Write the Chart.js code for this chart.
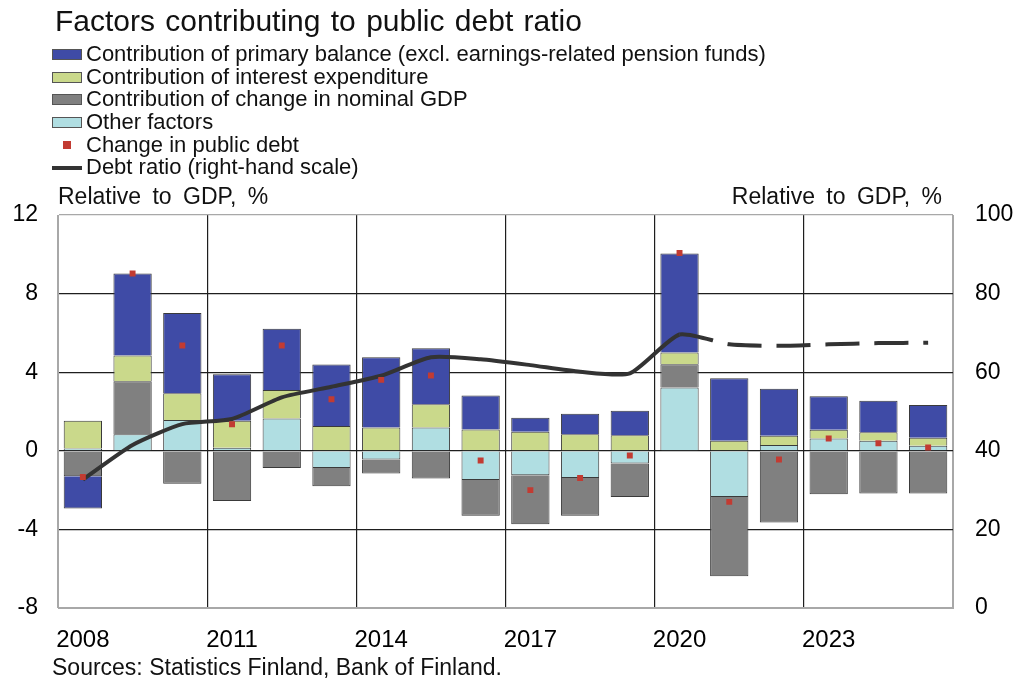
<!DOCTYPE html>
<html>
<head>
<meta charset="utf-8">
<script src="https://cdn.jsdelivr.net/npm/chart.js@4.4.1/dist/chart.umd.min.js"></script>
<style>
  body { margin: 0; background: #fff; font-family: "Liberation Sans", Arial, sans-serif; color: #111; }
  #wrap { position: relative; width: 1019px; height: 686px; overflow: hidden; }
  canvas { position: absolute; left: 0; top: 0; }
  .txt { position: absolute; white-space: nowrap; }
  #title { left: 55px; top: 4px; font-size: 30px; word-spacing: 2px; }
  #legend { position: absolute; left: 52px; top: 43px; font-size: 22px; }
  .row { height: 22.7px; line-height: 22.7px; display: flex; align-items: center; }
  .sw { width: 30px; height: 11px; margin-right: 4px; box-sizing: border-box; border: 1px solid #555; }
  .dot { width: 30px; margin-right: 4px; display: flex; justify-content: center; }
  .dot span { width: 8px; height: 8px; background: #c23b32; }
  .ln { width: 30px; height: 4px; background: #333; margin-right: 4px; }
  #lunit { left: 58px; top: 183px; font-size: 23px; word-spacing: 5px; }
  #runit { right: 77px; top: 183px; font-size: 23px; word-spacing: 5px; }
  #src { left: 52px; top: 654px; font-size: 23px; }
</style>
</head>
<body>
<div id="wrap">
  <canvas id="chart" width="1019" height="686"></canvas>
  <div class="txt" id="title">Factors contributing to public debt ratio</div>
  <div id="legend">
    <div class="row"><div class="sw" style="background:#3f4ba6"></div>Contribution of primary balance (excl. earnings-related pension funds)</div>
    <div class="row"><div class="sw" style="background:#cad98b"></div>Contribution of interest expenditure</div>
    <div class="row"><div class="sw" style="background:#808080"></div>Contribution of change in nominal GDP</div>
    <div class="row"><div class="sw" style="background:#b0dee2"></div>Other factors</div>
    <div class="row"><div class="dot"><span></span></div>Change in public debt</div>
    <div class="row"><div class="ln"></div>Debt ratio (right-hand scale)</div>
  </div>
  <div class="txt" id="lunit">Relative to GDP, %</div>
  <div class="txt" id="runit">Relative to GDP, %</div>
  <div class="txt" id="src">Sources: Statistics Finland, Bank of Finland.</div>
</div>
<script>
var years = ['2008', '2009', '2010', '2011', '2012', '2013', '2014', '2015', '2016',
             '2017', '2018', '2019', '2020', '2021', '2022', '2023', '2024', '2025'];

// contributions, relative to GDP, %
var primaryBalance = [-1.65, 4.17, 4.08, 2.37, 3.11, 3.13, 3.58, 2.85, 1.72, 0.71, 1.05, 1.25, 5.04, 3.18, 2.39, 1.71, 1.60, 1.67];
var interestExp    = [1.41, 1.31, 1.36, 1.38, 1.45, 1.26, 1.18, 1.19, 1.09, 0.97, 0.84, 0.79, 0.59, 0.51, 0.48, 0.44, 0.44, 0.40];
var nominalGdp     = [-1.29, 2.70, -1.68, -2.55, -0.87, -0.93, -0.71, -1.41, -1.82, -2.50, -1.93, -1.70, 1.19, -4.03, -3.65, -2.21, -2.17, -2.17];
var otherFactors   = [0.12, 0.84, 1.57, 0.15, 1.65, -0.87, -0.44, 1.18, -1.49, -1.24, -1.38, -0.65, 3.22, -2.35, 0.29, 0.63, 0.51, 0.26];
var debtChange     = [-1.33, 9.02, 5.36, 1.35, 5.36, 2.62, 3.61, 3.83, -0.49, -2.00, -1.38, -0.24, 10.07, -2.60, -0.44, 0.63, 0.38, 0.17];

// debt ratio, right-hand scale
var debtRatio = [32.7, 41.5, 46.8, 48.1, 53.6, 56.3, 59.1, 63.8, 63.3, 61.8, 60.1, 59.7, 69.6, 67.1, 66.7, 67.1, 67.4, 67.5];
var forecastFrom = 12; // dashed after 2020

var tickFont = { family: '"Liberation Sans", Arial, sans-serif', size: 23 };
var xTickFont = { family: '"Liberation Sans", Arial, sans-serif', size: 24 };
var darkGrid = '#1e1e1e', lightGrid = '#a8a8a8';

function bar(label, data, color) {
    return {
        type: 'bar', label: label, data: data, backgroundColor: color,
        borderColor: '#3a3a3a', borderWidth: 1, stack: 'c', yAxisID: 'y',
        barPercentage: 0.77, categoryPercentage: 1
    };
}

new Chart(document.getElementById('chart'), {
    type: 'bar',
    data: {
        labels: years,
        datasets: [
            bar('Other factors', otherFactors, '#b0dee2'),
            bar('Contribution of change in nominal GDP', nominalGdp, '#808080'),
            bar('Contribution of interest expenditure', interestExp, '#cad98b'),
            bar('Contribution of primary balance', primaryBalance, '#3f4ba6'),
            {
                type: 'line', label: 'Debt ratio', data: debtRatio, yAxisID: 'y2',
                borderColor: '#333', borderWidth: 4, pointRadius: 0, tension: 0.2,
                order: -1,
                segment: {
                    borderDash: function(ctx) { return ctx.p0DataIndex >= forecastFrom ? [34, 15] : undefined; }
                }
            },
            {
                type: 'line', label: 'Change in public debt', data: debtChange, yAxisID: 'y',
                stack: 'dots', showLine: false, pointStyle: 'rect', pointRadius: 4.2,
                pointBackgroundColor: '#c23b32', pointBorderWidth: 0, order: -2
            }
        ]
    },
    options: {
        responsive: false,
        animation: false,
        layout: { padding: { top: 215 } },
        plugins: { legend: { display: false }, tooltip: { enabled: false } },
        scales: {
            x: {
                stacked: true,
                grid: {
                    offset: true, drawTicks: false, lineWidth: 1.2,
                    color: function(c) {
                        if (c.index === undefined || c.index === 0) return lightGrid;
                        return c.index % 3 === 0 ? darkGrid : 'rgba(0,0,0,0)';
                    }
                },
                border: { display: true, color: lightGrid },
                ticks: {
                    autoSkip: false, maxRotation: 0, padding: 18, color: '#000', font: xTickFont,
                    callback: function(v, i) { return i % 3 === 0 ? years[i] : ''; }
                },
                afterFit: function(s) { s.height = 78; }
            },
            y: {
                stacked: true, min: -8, max: 12,
                grid: {
                    drawTicks: false, lineWidth: 1.2,
                    color: function(c) {
                        var v = c.tick ? c.tick.value : null;
                        return (v === 12 || v === -8) ? lightGrid : darkGrid;
                    }
                },
                border: { display: true, color: lightGrid },
                ticks: { stepSize: 4, padding: 20, color: '#000', font: tickFont },
                afterFit: function(s) { s.width = 58; }
            },
            y2: {
                position: 'right', min: 0, max: 100,
                grid: { display: false, drawTicks: false },
                border: { display: true, color: lightGrid },
                ticks: { stepSize: 20, padding: 22, color: '#000', font: tickFont },
                afterFit: function(s) { s.width = 66; }
            }
        }
    }
});
</script>
</body>
</html>
